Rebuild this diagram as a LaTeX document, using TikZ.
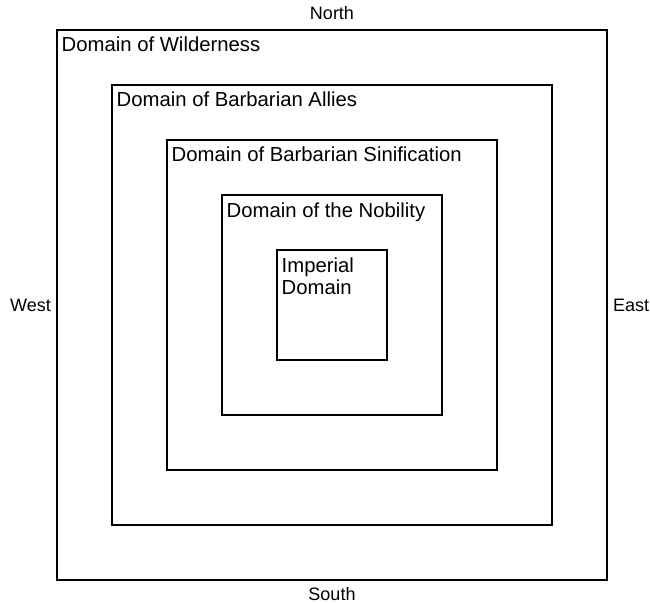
\documentclass[tikz,border=0pt]{standalone}
\usepackage{fontspec}
\setmainfont{Liberation Sans}
\usepackage{tikz}
\usetikzlibrary{positioning}
\tikzset{Zone/.style={%
    shape=rectangle,%
    draw=black,%
    line width=2pt,%
    inner sep=0pt,%
    minimum size=#1,%
}}
\tikzset{ZoneText/.style={%
    anchor=base west,%
    inner sep=0pt,%
    align=left,%
    font=\fontsize{20.3}{22.5}\selectfont,%
}}
\tikzset{Compass/.style={%
    inner sep=0pt,%
    font=\fontsize{18}{20}\selectfont,%
}}

\begin{document}
\begin{tikzpicture}[x=1pt, y=-1pt]
    \useasboundingbox (0,0) rectangle (650,604);

    \node[Zone=550pt] (wilderness) at (332,305) {};
    \node[Zone=440pt] (allies) at (332,305) {};
    \node[Zone=330pt] (sinification) at (332,305) {};
    \node[Zone=220pt] (nobility) at (332,305) {};
    \node[Zone=110pt] (imperial) at (332,305) {};

    \node[ZoneText] (wildernessText) at ([xshift=5.5pt,yshift=-23pt]wilderness.north west) {Domain of Wilderness};
    \node[ZoneText] (alliesText) at ([xshift=5.5pt,yshift=-23pt]allies.north west) {Domain of Barbarian Allies};
    \node[ZoneText] (sinificationText) at ([xshift=5.5pt,yshift=-23pt]sinification.north west) {Domain of Barbarian Sinification};
    \node[ZoneText] (nobilityText) at ([xshift=5.5pt,yshift=-23pt]nobility.north west) {Domain of the Nobility};
    \node[ZoneText, anchor=north west] (imperialText) at ([xshift=5.5pt,yshift=-8.5pt]imperial.north west) {Imperial\\Domain};

    \node[Compass, above=9pt of wilderness] (north) {North};
    \node[Compass, below=6pt of wilderness] (south) {South};
    \node[Compass, left=5pt of wilderness] (west) {West};
    \node[Compass, right=5pt of wilderness] (east) {East};
\end{tikzpicture}
\end{document}
